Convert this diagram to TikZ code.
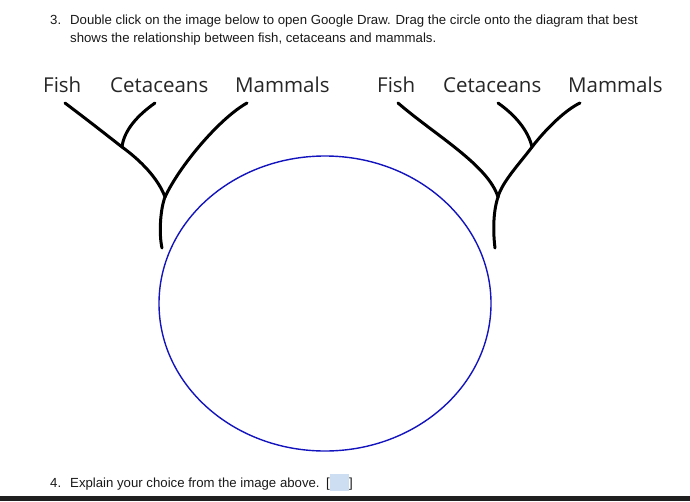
\documentclass[tikz,border=0pt]{standalone}
\usepackage{fontspec}
\setmainfont{Liberation Sans}
\newfontfamily\baumfont{Open Sans}
\usetikzlibrary{positioning}
\definecolor{kreisblau}{RGB}{20,20,190}
\definecolor{feldblau}{RGB}{205,222,242}

\begin{document}
\begin{tikzpicture}[x=1pt,y=-1pt,
  ast/.style={line width=3pt,line cap=round},
  artname/.style={anchor=base west,inner sep=0pt,text=black!85,font=\baumfont\fontsize{20.5}{20.5}\selectfont},
  frage/.style={anchor=base west,inner sep=0pt,text=black!90,font=\fontsize{13.2}{13.2}\selectfont}]

\useasboundingbox (0,0) rectangle (690,501);

%Aufgabe 3
\node[frage] (nr3) at (50,24) {3.};
\node[frage] (satz1) at (70,24) {Double click on the image below to open Google Draw. Drag the circle onto the diagram that best};
\node[frage] (satz2) at (70,42) {shows the relationship between fish, cetaceans and mammals.};

%Namen
\node[artname] (fisch1) at (43,92) {Fish};
\node[artname] (wal1) at (110,92) {Cetaceans};
\node[artname] (saeug1) at (235,92) {Mammals};
\node[artname] (fisch2) at (377,92) {Fish};
\node[artname] (wal2) at (443,92) {Cetaceans};
\node[artname] (saeug2) at (568,92) {Mammals};

%Baum links
\coordinate (f1) at (65,103);
\coordinate (c1) at (155,103);
\coordinate (m1) at (247,103);
\coordinate (k1) at (122,147);
\coordinate (w1) at (165,197);
\coordinate (s1) at (162,248);
\draw[ast] (f1) .. controls (90,122) .. (k1) .. controls (140,160) and (158,178) .. (w1)
  .. controls (160,210) and (159,235) .. (s1);
\draw[ast] (c1) .. controls (138,115) and (124,130) .. (k1);
\draw[ast] (m1) .. controls (220,118) and (180,165) .. (w1);

%Baum rechts
\coordinate (f2) at (398,103);
\coordinate (c2) at (498,103);
\coordinate (m2) at (580,103);
\coordinate (k2) at (532,147);
\coordinate (w2) at (498,197);
\coordinate (s2) at (495,248);
\draw[ast] (f2) .. controls (435,135) and (488,165) .. (w2) .. controls (493,212) and (493,232) .. (s2);
\draw[ast] (c2) .. controls (515,115) and (528,130) .. (k2);
\draw[ast] (m2) .. controls (565,110) and (545,130) .. (k2) .. controls (520,163) and (502,182) .. (w2);

%Kreis
\draw[kreisblau, line width=1.4pt] (325,303.5) ellipse [x radius=166, y radius=147.5];

%Aufgabe 4
\node[frage] (nr4) at (50,487) {4.};
\node[frage] (satz3) at (70,487) {Explain your choice from the image above.};
\fill[feldblau] (330,474) rectangle (349,491);
\node[frage] (klauf) at (326,487) {[};
\node[frage] (klzu) at (349,487) {]};

%Balken
\fill[black!88] (0,496) rectangle (690,501);

\end{tikzpicture}
\end{document}
